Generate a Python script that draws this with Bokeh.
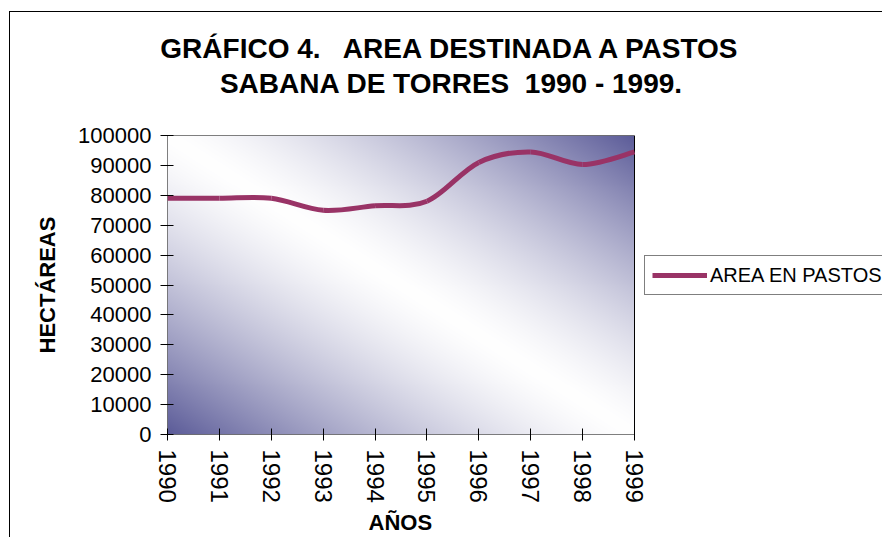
import numpy as np
from bokeh.plotting import figure
from bokeh.models import (Range1d, FixedTicker, BasicTickFormatter, Legend,
                          LegendItem, Title)
from bokeh.embed import file_html
from bokeh.resources import INLINE

# ---------------- data ----------------
years = [1990, 1991, 1992, 1993, 1994, 1995, 1996, 1997, 1998, 1999]
area = [79000, 79000, 79000, 75000, 76500, 78000, 91000, 94500, 90300, 94500]
y_ticks = [0, 10000, 20000, 30000, 40000, 50000, 60000, 70000, 80000, 90000, 100000]
title_lines = ["GRÁFICO 4.\u00a0\u00a0 AREA DESTINADA A PASTOS",
               "SABANA DE TORRES\u00a0 1990 - 1999."]
x_title = "AÑOS"
y_title = "HECTÁREAS"
series_name = "AREA EN PASTOS"

FONT = "Liberation Sans"
LINE_COLOR = "#993366"

W, H = 882, 537
PL, PR, PT, PB = 167, 634, 135, 437   # plot-area edges (px)
# the frame runs on to the right edge so that the legend can sit beside the plot area
x_end = years[0] + (years[-1] - years[0]) * (W - PL) / (PR - PL)

p = figure(width=W, height=H, output_backend="svg", toolbar_location=None, title=None,
           x_range=Range1d(years[0], x_end), y_range=Range1d(y_ticks[0], y_ticks[-1]),
           min_border_left=PL, min_border_right=0, min_border_top=PT,
           min_border_bottom=H - PB)
p.background_fill_color = None
p.border_fill_color = None
p.outline_line_color = None
p.xgrid.visible = False
p.ygrid.visible = False
# outer chart border (its left and top edges; the rest lies outside the window)
p.styles = {
    "background-color": "white",
    "background-image": "linear-gradient(#000, #000), linear-gradient(#000, #000)",
    "background-size": "1px 100%, 100% 1px",
    "background-position": "9px 11px, 9px 11px",
    "background-repeat": "no-repeat",
}

# gradient fill of the plot area (style only)
nx, ny = PR - PL, PB - PT
u = np.linspace(0, 1, nx)[None, :]
vt = np.linspace(1, 0, ny)[:, None]
d = np.abs(u - vt) ** 1.4
dark = (92, 92, 153)
img = np.empty((ny, nx), dtype=np.uint32)
view = img.view(dtype=np.uint8).reshape((ny, nx, 4))
for k in range(3):
    view[:, :, k] = np.clip(255 + (dark[k] - 255) * d, 0, 255).astype(np.uint8)
view[:, :, 3] = 255
p.image_rgba(image=[img], x=years[0], y=y_ticks[0], dw=years[-1] - years[0],
             dh=y_ticks[-1] - y_ticks[0])
# plot-area border
p.quad(left=[years[0]], right=[years[-1]], bottom=[y_ticks[0]], top=[y_ticks[-1]],
       fill_color=None, line_color="black", line_width=1)

# smoothed line (Bezier segments through the data points)
xs = np.array(years, dtype=float)
ys = np.array(area, dtype=float)
n = len(xs)
i = np.arange(n - 1)
prev = np.maximum(i - 1, 0)
nxt2 = np.minimum(i + 2, n - 1)
cx0 = xs[i] + (xs[i + 1] - xs[prev]) / 6
cy0 = ys[i] + (ys[i + 1] - ys[prev]) / 6
cx1 = xs[i + 1] - (xs[nxt2] - xs[i]) / 6
cy1 = ys[i + 1] - (ys[nxt2] - ys[i]) / 6
r = p.bezier(x0=xs[:-1], y0=ys[:-1], x1=xs[1:], y1=ys[1:], cx0=cx0, cy0=cy0,
             cx1=cx1, cy1=cy1, line_color=LINE_COLOR, line_width=5, line_cap="butt")

# ---------------- axes ----------------
for ax in (p.xaxis[0], p.yaxis[0]):
    ax.axis_line_color = None
    ax.major_tick_line_color = "black"
    ax.minor_tick_line_color = None
    ax.major_label_text_font = FONT
    ax.major_label_text_color = "black"
    ax.formatter = BasicTickFormatter(use_scientific=False)

p.xaxis.ticker = FixedTicker(ticks=years)
p.yaxis.ticker = FixedTicker(ticks=y_ticks)
p.xaxis.major_label_orientation = "vertical"
p.xaxis.major_label_text_font_size = "24px"
p.yaxis.major_label_text_font_size = "22px"
p.xaxis.major_tick_in = 6
p.xaxis.major_tick_out = 6
p.xaxis.major_label_standoff = 9
p.yaxis.major_tick_in = 6
p.yaxis.major_tick_out = 7
p.yaxis.major_label_standoff = 9

def bold_title(text, **kw):
    return Title(text=text, text_font=FONT, text_font_style="bold", text_color="black", **kw)

# axis titles
p.add_layout(bold_title(y_title, text_font_size="22px", align="left", offset=81,
                        standoff=32), "left")
p.add_layout(bold_title(x_title, text_font_size="22px", align="left", offset=201,
                        standoff=5), "below")

# chart title, two lines (line nearest the plot first)
p.add_layout(bold_title(title_lines[1], text_font_size="28px", align="center", standoff=0,
                        padding=dict(left=0, right=147, top=0, bottom=37)), "above")
p.add_layout(bold_title(title_lines[0], text_font_size="28px", align="center", standoff=0,
                        padding=dict(left=0, right=147, top=0, bottom=2)), "above")

# ---------------- legend ----------------
legend = Legend(items=[LegendItem(label=series_name, renderers=[r])],
                location=(644 - PL, PB - 298), orientation="vertical",
                label_text_font=FONT, label_text_font_size="20px", label_text_color="black",
                border_line_color="black", border_line_width=1,
                background_fill_color="white", background_fill_alpha=1,
                glyph_width=55, glyph_height=24, label_standoff=3, padding=7,
                spacing=0, margin=0)
p.add_layout(legend)

open("out.html", "w").write(file_html(p, INLINE))
